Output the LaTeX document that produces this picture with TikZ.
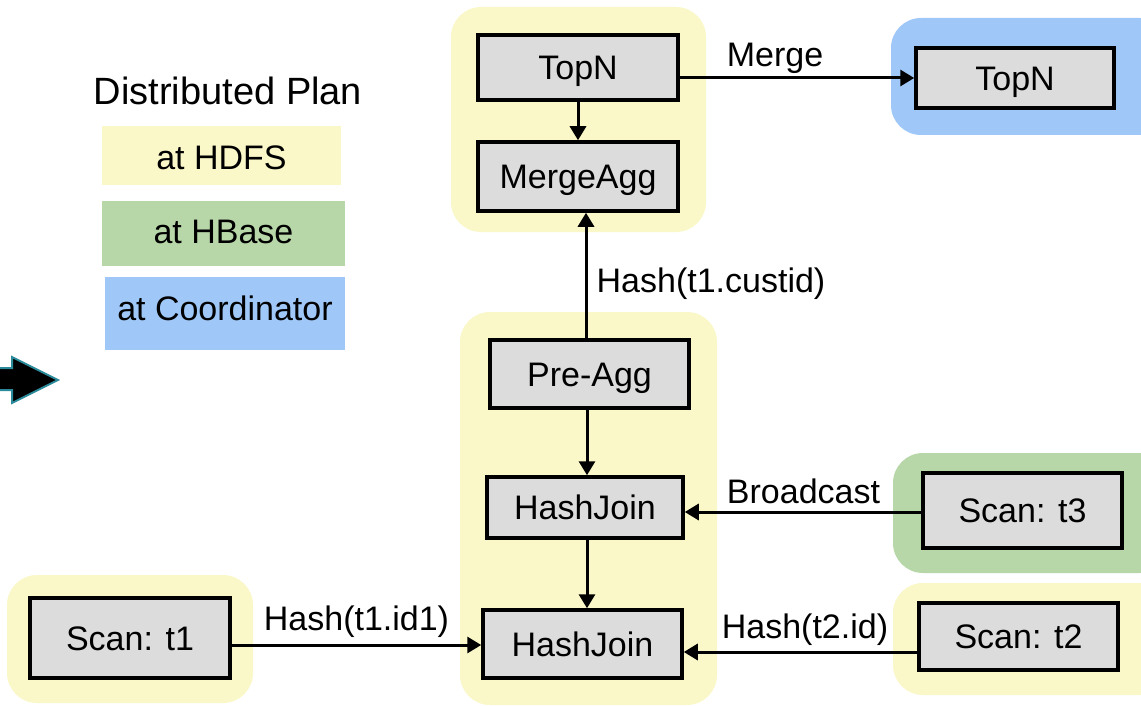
\documentclass[tikz,border=0pt]{standalone}
\usepackage{fontspec}
\setmainfont{Liberation Sans}
\usetikzlibrary{arrows.meta}
\definecolor{hdfs}{HTML}{FAF8C8}
\definecolor{hbase}{HTML}{B7D7A8}
\definecolor{coord}{HTML}{9FC8F8}
\definecolor{boxgray}{HTML}{DCDCDC}
\definecolor{arrowedge}{HTML}{2A8A9A}
\tikzset{
  region/.style={rounded corners=30pt},
  opbox/.style={draw=black, fill=boxgray, line width=3.5pt, inner sep=0pt,
    font=\fontsize{34}{40}\selectfont, text height=24.5pt, text depth=0pt},
  lab/.style={anchor=base, inner sep=0pt, font=\fontsize{34}{40}\selectfont},
  conn/.style={line width=3pt, -{Triangle[length=14pt,width=16pt]}},
  legendbox/.style={inner sep=0pt}
}
\begin{document}
\begin{tikzpicture}[x=1pt,y=-1pt]
\clip (0,0) rectangle (1141,706);
\fill[white] (0,0) rectangle (1141,706);
% background regions
\fill[hdfs,region] (451,7) rectangle (706,232);
\fill[coord,region] (891,18) rectangle (1170,135);
\fill[hbase,region] (893,453) rectangle (1170,573);
\fill[hdfs,region] (893,583) rectangle (1170,695);
\fill[hdfs,region] (460,312) rectangle (717,705);
\fill[hdfs,region] (7,575) rectangle (253,703);
% legend
\node[lab, font=\fontsize{38}{44}\selectfont] (title) at (228,105) {Distributed Plan};
\fill[hdfs] (102,126) rectangle (341,185);
\fill[hbase] (102,201) rectangle (345,266);
\fill[coord] (105,277) rectangle (345,350);
\node[lab] (lhdfs) at (221.5,170) {at HDFS};
\node[lab] (lhbase) at (223.5,243) {at HBase};
\node[lab] (lcoord) at (225,320) {at Coordinator};
% left block arrow
\filldraw[fill=black, draw=arrowedge, line width=2pt, line join=miter]
  (-5,368) -- (12,368) -- (12,357) -- (58,380) -- (12,403) -- (12,390) -- (-5,390) -- cycle;
% operator boxes
\node[opbox, minimum width=200pt, minimum height=65pt] (topn) at (578,67.5) {TopN};
\node[opbox, minimum width=200pt, minimum height=69pt] (magg) at (578,176.5) {MergeAgg};
\node[opbox, minimum width=198pt, minimum height=60pt] (topr) at (1015,78) {TopN};
\node[opbox, minimum width=199pt, minimum height=68pt] (pre) at (589.5,374) {Pre-Agg};
\node[opbox, minimum width=196pt, minimum height=61pt] (hjm) at (585,507.5) {HashJoin};
\node[opbox, minimum width=199pt, minimum height=68pt] (hjb) at (582.5,644) {HashJoin};
\node[opbox, minimum width=199pt, minimum height=75pt] (t3) at (1022.5,510.5) {Scan: t3};
\node[opbox, minimum width=199pt, minimum height=67pt] (t2) at (1018.5,636.5) {Scan: t2};
\node[opbox, minimum width=200pt, minimum height=80pt] (t1) at (130,638) {Scan: t1};
% connectors
\draw[conn] (topn.east |- topr.west) -- (topr.west);
\draw[conn] (topn.south) -- (magg.north);
\draw[conn] ([xshift=8pt]pre.north -| magg.south) -- ([xshift=8pt]magg.south);
\draw[conn] (pre.south -| hjm.north) ++(2pt,0) coordinate (p1) -- (p1 |- hjm.north);
\draw[conn] ([xshift=2pt]hjm.south) coordinate (p2) -- (p2 |- hjb.north);
\draw[conn] (t3.west |- 0,512) -- (hjm.east |- 0,512);
\draw[conn] (t2.west |- 0,652) -- (hjb.east |- 0,652);
\draw[conn] (t1.east |- 0,645) -- (hjb.west |- 0,645);
% connector labels
\node[lab] (lmerge) at (775,67) {Merge};
\node[lab] (lcust) at (711,292) {Hash(t1.custid)};
\node[lab] (lbcast) at (803.5,503) {Broadcast};
\node[lab] (lt2) at (805,638) {Hash(t2.id)};
\node[lab] (lt1) at (356.5,630) {Hash(t1.id1)};
\end{tikzpicture}
\end{document}
